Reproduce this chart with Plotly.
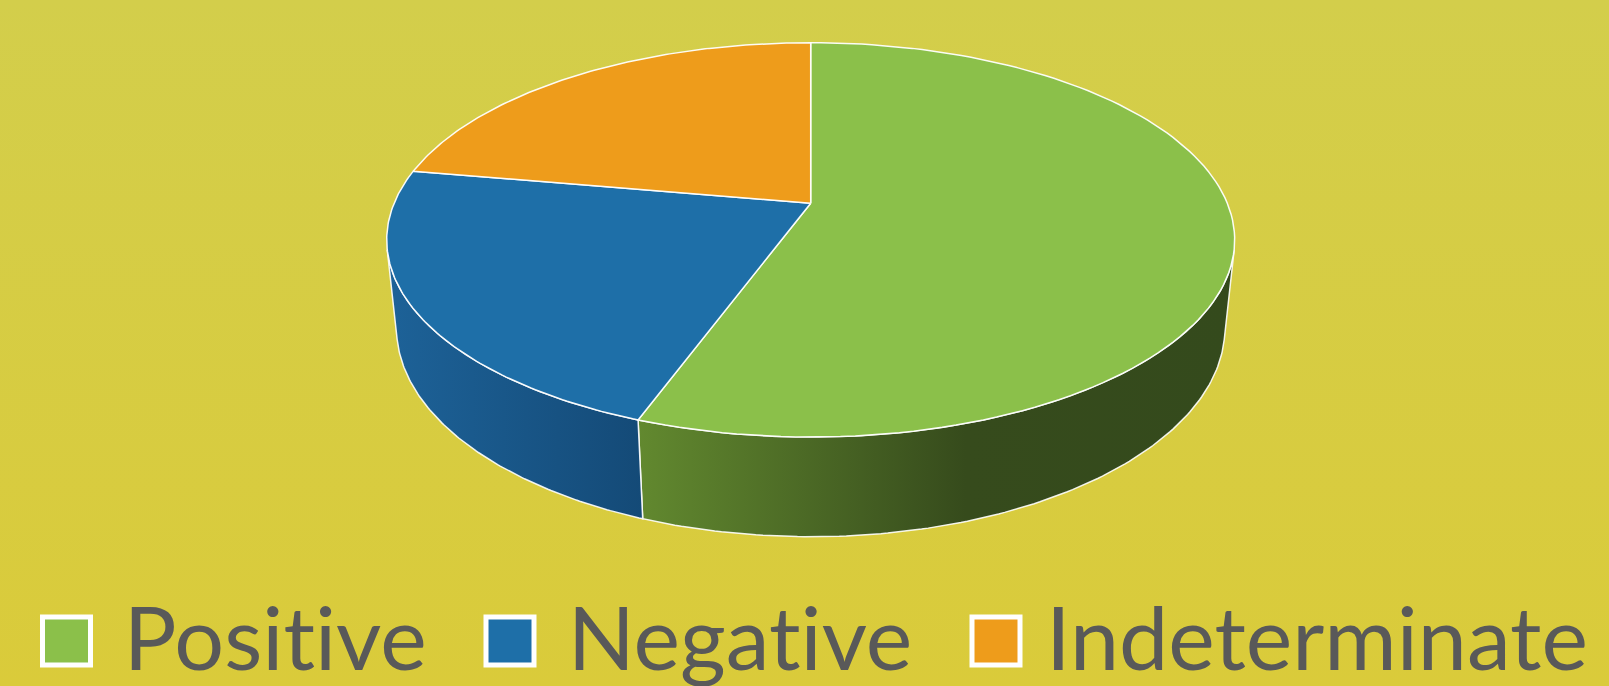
import math
import plotly.graph_objects as go

# ---- data ----
categories = ["Positive", "Negative", "Indeterminate"]
values = [10, 4, 4]
top_colors = ["#8bc04a", "#1e6fa8", "#ee9c1b"]
side_scales = [
    [[0, "#62892f"], [0.55, "#364b1c"], [1, "#344a1c"]],
    [[0, "#1d6298"], [1, "#144a77"]],
    [[0, "#a86a0f"], [1, "#7a4c0a"]],
]

# ---- page / projection geometry ----
W, H = 1609, 686
CX, CY = 810.7, 203.2          # screen position of pie centre (y down)
ALPHA = math.asin(0.457)       # viewing elevation
DIST = 4.785                   # camera distance (radius = 1)
FOC = 416.6 * DIST             # focal scale
THICK = 0.2395                 # pie thickness (radius = 1)


def project(phi_deg, r=1.0, z=0.0):
    p = math.radians(phi_deg)
    X, Y, Z = r * math.sin(p), r * math.cos(p), z
    depth = DIST + Y * math.cos(ALPHA) - Z * math.sin(ALPHA)
    sx = CX + FOC * X / depth
    sy = CY - FOC * (Y * math.sin(ALPHA) + Z * math.cos(ALPHA)) / depth
    return sx, H - sy  # data y is upward


def arc(a0, a1, z=0.0, n=120):
    pts = [project(a0 + (a1 - a0) * i / n, 1.0, z) for i in range(n + 1)]
    return [p[0] for p in pts], [p[1] for p in pts]


total = sum(values)
bounds = []
acc = 0.0
for v in values:
    a0 = acc / total * 360.0
    acc += v
    bounds.append((a0, acc / total * 360.0))

# visible range of the side wall
lim = math.degrees(math.acos(-1.0 / (DIST * math.cos(ALPHA))))
vis0, vis1 = lim, 360.0 - lim

fig = go.Figure()

# background gradient
fig.add_trace(go.Scatter(
    x=[0, W, W, 0, 0], y=[0, 0, H, H, 0], mode="lines", fill="toself",
    line=dict(width=0), hoverinfo="skip", showlegend=False,
    fillgradient=dict(type="vertical", start=0, stop=H,
                      colorscale=[[0, "#dacb3a"], [1, "#d3ce4b"]]),
))

# side walls
for (a0, a1), sc in zip(bounds, side_scales):
    s0, s1 = max(a0, vis0), min(a1, vis1)
    if s1 <= s0:
        continue
    tx, ty = arc(s0, s1, 0.0)
    bx, by = arc(s0, s1, -THICK)
    xs = tx + bx[::-1] + [tx[0]]
    ys = ty + by[::-1] + [ty[0]]
    fig.add_trace(go.Scatter(
        x=xs, y=ys, mode="lines", fill="toself",
        line=dict(color="rgba(255,255,255,0.9)", width=1.5),
        fillgradient=dict(type="horizontal", colorscale=sc),
        hoverinfo="skip", showlegend=False,
    ))

# top faces
cxp, cyp = project(0, 0.0, 0.0)
for (a0, a1), col, name in zip(bounds, top_colors, categories):
    ax_, ay_ = arc(a0, a1, 0.0)
    fig.add_trace(go.Scatter(
        x=[cxp] + ax_ + [cxp], y=[cyp] + ay_ + [cyp], mode="lines",
        fill="toself", fillcolor=col,
        line=dict(color="rgba(255,255,255,0.95)", width=1.5),
        name=name, hoverinfo="name", showlegend=False,
    ))

# legend (manual, large)
leg_sq_x = [66.5, 510, 996]
leg_tx_x = [121, 565, 1044]
leg_y = H - 636
fig.add_trace(go.Scatter(
    x=leg_sq_x, y=[H - 641] * 3, mode="markers",
    marker=dict(symbol="square", size=48, color=top_colors,
                line=dict(color="white", width=5)),
    hoverinfo="skip", showlegend=False,
))
for tx, name in zip(leg_tx_x, categories):
    fig.add_annotation(
        x=tx, y=leg_y, xref="x", yref="y", text=name, showarrow=False,
        xanchor="left", yanchor="middle",
        font=dict(family="Lato", size=88, color="#595959"),
    )

fig.update_layout(
    width=W, height=H,
    margin=dict(l=0, r=0, t=0, b=0),
    paper_bgcolor="#d6cc44", plot_bgcolor="rgba(0,0,0,0)",
    xaxis=dict(range=[0, W], visible=False, fixedrange=True),
    yaxis=dict(range=[0, H], visible=False, fixedrange=True),
    showlegend=False,
)

post = (
    "document.body.style.margin='0';"
    "document.body.style.overflow='hidden';"
    "var st=document.createElement('style');"
    "st.textContent='text{font-variant-ligatures:none;font-feature-settings:\"liga\" 0;}';"
    "document.head.appendChild(st);"
)
fig.write_html("out.html", post_script=post, config={"displayModeBar": False})
